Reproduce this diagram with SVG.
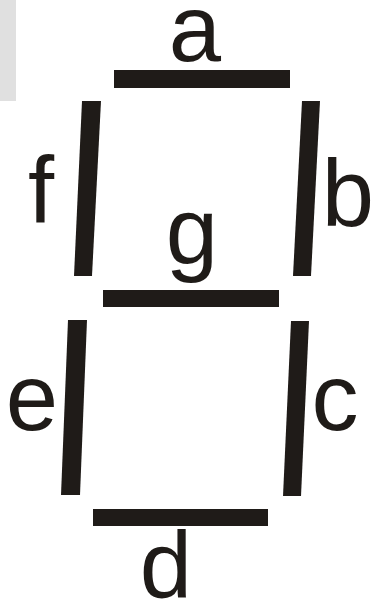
<svg xmlns="http://www.w3.org/2000/svg" width="372" height="603" viewBox="0 0 372 603">
<style>
.seg{fill:#1f1b18}
.lbl{font-family:"Liberation Sans",Arial,sans-serif;font-size:94px;fill:#1f1b18;text-anchor:middle}
</style>
<rect x="0" y="0" width="372" height="603" fill="#ffffff"/>
<rect x="0" y="0" width="16" height="101" fill="#e0e0e0"/>
<g id="seg-a"><rect class="seg" x="114" y="70" width="176" height="18"/><text class="lbl" x="195" y="61">a</text></g>
<g id="seg-b"><polygon class="seg" points="302,101 320,101 311,276 293,276"/><text class="lbl" x="348" y="226">b</text></g>
<g id="seg-c"><polygon class="seg" points="291,321 309,321 301,496 283,496"/><text class="lbl" x="335" y="430">c</text></g>
<g id="seg-d"><rect class="seg" x="93" y="509" width="175" height="17"/><text class="lbl" x="166" y="598">d</text></g>
<g id="seg-e"><polygon class="seg" points="68,320 87,320 80,495 61,495"/><text class="lbl" x="32" y="430">e</text></g>
<g id="seg-f"><polygon class="seg" points="82,101 101,101 92,276 74,276"/><text class="lbl" x="41" y="223">f</text></g>
<g id="seg-g"><rect class="seg" x="103" y="290" width="176" height="17"/><text class="lbl" x="192" y="263">g</text></g>
<g id="connectors"></g>
</svg>
